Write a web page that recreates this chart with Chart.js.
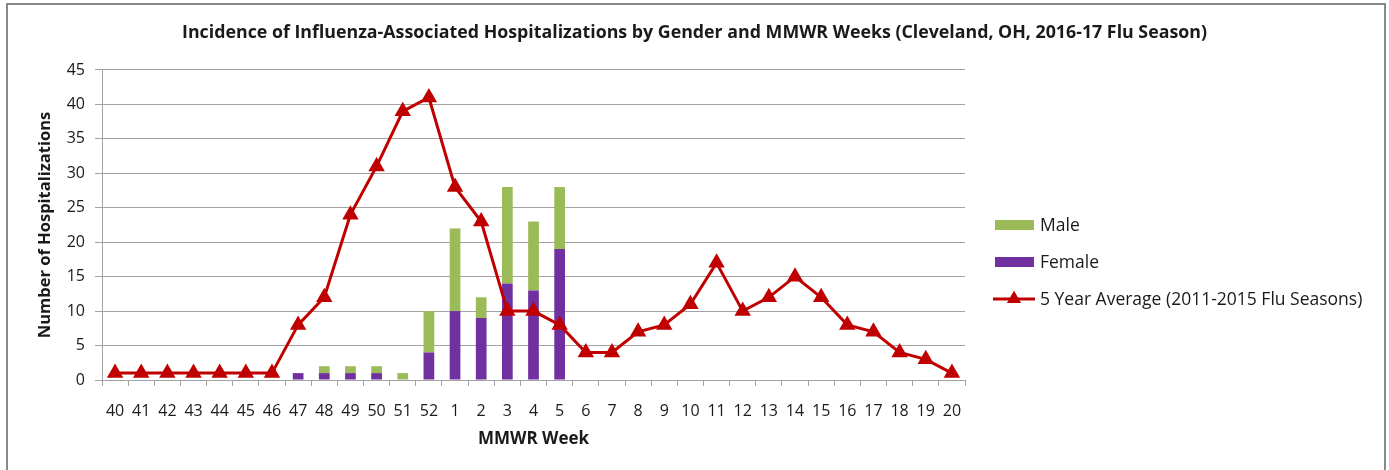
<!DOCTYPE html>
<html>
<head>
<meta charset="utf-8">
<script src="https://cdn.jsdelivr.net/npm/chart.js@4.4.1/dist/chart.umd.min.js"></script>
<style>
  html, body { margin: 0; padding: 0; background: #fff; }
  #wrap { position: relative; width: 1389px; height: 470px; overflow: hidden; }
  #frame {
    position: absolute; left: 6px; top: 3px; width: 1376px; height: 600px;
    border: 2px solid #898989; pointer-events: none;
  }
</style>
</head>
<body>
<div id="wrap">
  <canvas id="fluChart" width="1389" height="470"></canvas>
  <div id="frame"></div>
</div>
<script>
// MMWR weeks, 2016-17 season
const weeks = ['40','41','42','43','44','45','46','47','48','49','50','51','52',
               '1','2','3','4','5','6','7','8','9','10','11','12','13','14','15','16','17','18','19','20'];

const female = [0,0,0,0,0,0,0,1,1,1,1,0,4,10,9,14,13,19,0,0,0,0,0,0,0,0,0,0,0,0,0,0,0];
const male   = [0,0,0,0,0,0,0,0,1,1,1,1,6,12,3,14,10,9,0,0,0,0,0,0,0,0,0,0,0,0,0,0,0];
const fiveYearAvg = [1,1,1,1,1,1,1,8,12,24,31,39,41,28,23,10,10,8,4,4,7,8,11,17,10,12,15,12,8,7,4,3,1];

const yTicks = [0, 5, 10, 15, 20, 25, 30, 35, 40, 45];

const FONT = "'Open Sans', sans-serif";
const GRID = '#a3a3a3';
const TEXT = '#1a1a1a';

// Draws the legend on the right, reading labels/colours from the datasets
const sideLegend = {
    id: 'sideLegend',
    afterDraw(chart) {
        const ctx = chart.ctx;
        const ds = chart.data.datasets;
        const items = [ds[1], ds[0], ds[2]]; // Male, Female, Average
        const rows = [225, 262, 299];
        ctx.save();
        ctx.font = '17.5px ' + FONT;
        ctx.textBaseline = 'middle';
        items.forEach((d, i) => {
            const y = rows[i];
            if (d.type === 'line') {
                ctx.strokeStyle = d.borderColor;
                ctx.lineWidth = 3;
                ctx.beginPath();
                ctx.moveTo(993, y);
                ctx.lineTo(1035, y);
                ctx.stroke();
                ctx.fillStyle = d.pointBackgroundColor;
                Chart.helpers.drawPoint(ctx, { pointStyle: 'triangle', radius: 8, rotation: 0, borderWidth: 0 }, 1014, y);
                ctx.fill();
            } else {
                ctx.fillStyle = d.backgroundColor;
                ctx.fillRect(995, y - 5, 39, 10);
            }
            ctx.fillStyle = TEXT;
            ctx.fillText(d.label, 1040, y + 1);
        });
        ctx.restore();
    }
};

const ctx = document.getElementById('fluChart').getContext('2d');
const fluChart = new Chart(ctx, {
    type: 'bar',
    data: {
        labels: weeks,
        datasets: [
            {
                label: 'Female',
                data: female,
                backgroundColor: '#7030A0',
                stack: 'gender',
                order: 1,
                barPercentage: 0.41,
                categoryPercentage: 1
            },
            {
                label: 'Male',
                data: male,
                backgroundColor: '#9BBB59',
                stack: 'gender',
                order: 1,
                barPercentage: 0.41,
                categoryPercentage: 1
            },
            {
                type: 'line',
                label: '5 Year Average (2011-2015 Flu Seasons)',
                data: fiveYearAvg,
                borderColor: '#C00000',
                backgroundColor: '#C00000',
                pointBackgroundColor: '#C00000',
                pointBorderColor: '#C00000',
                borderWidth: 3,
                pointStyle: 'triangle',
                pointRadius: 9.5,
                pointBorderWidth: 0,
                tension: 0,
                order: 0,
                clip: false
            }
        ]
    },
    options: {
        responsive: false,
        animation: false,
        layout: { padding: 0 },
        plugins: {
            legend: { display: false },
            tooltip: { enabled: false },
            title: {
                display: true,
                text: 'Incidence of Influenza-Associated Hospitalizations by Gender and MMWR Weeks (Cleveland, OH, 2016-17 Flu Season)',
                color: TEXT,
                font: { family: FONT, size: 17.8, weight: 'bold' },
                padding: { top: 22, bottom: 26.6 }
            }
        },
        scales: {
            x: {
                stacked: true,
                offset: true,
                grid: { offset: true, drawOnChartArea: false, color: GRID, tickLength: 6 },
                border: { display: true, color: GRID },
                ticks: { color: TEXT, font: { family: FONT, size: 16 }, padding: 16, maxRotation: 0, autoSkip: false },
                title: {
                    display: true,
                    text: 'MMWR Week',
                    color: TEXT,
                    font: { family: FONT, size: 17, weight: 'bold' },
                    padding: { top: 0, bottom: 21 }
                },
                afterFit(scale) { scale.height = 90; }
            },
            y: {
                stacked: true,
                min: 0,
                max: 45,
                afterBuildTicks(scale) { scale.ticks = yTicks.map(v => ({ value: v })); },
                grid: { color: GRID, tickLength: 7 },
                border: { display: true, color: GRID },
                ticks: { color: TEXT, font: { family: FONT, size: 16 }, padding: 10 },
                title: {
                    display: true,
                    text: 'Number of Hospitalizations',
                    color: TEXT,
                    font: { family: FONT, size: 16.5, weight: 'bold' },
                    padding: { top: 35, bottom: 0 }
                },
                afterFit(scale) { scale.width = 102; }
            },
            // empty axis that reserves the room on the right for the legend
            legendSpace: {
                position: 'right',
                display: true,
                grid: { display: false },
                border: { display: false },
                ticks: { display: false },
                afterFit(scale) { scale.width = 424; }
            }
        }
    },
    plugins: [sideLegend]
});
</script>
</body>
</html>
